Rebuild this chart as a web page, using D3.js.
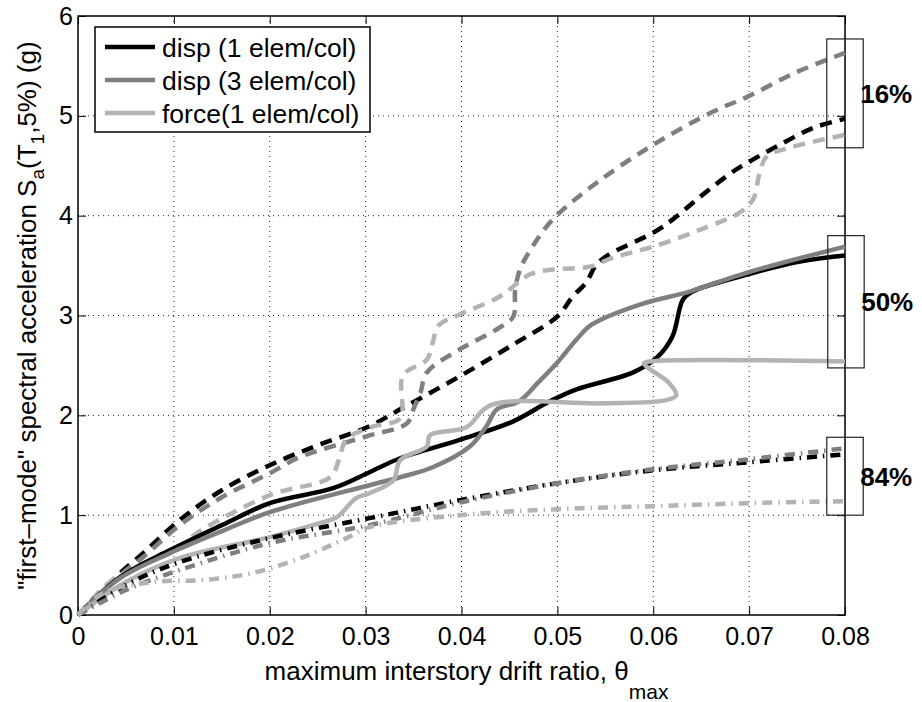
<!DOCTYPE html>
<html>
<head>
<meta charset="utf-8">
<script src="https://cdn.jsdelivr.net/npm/d3@7"></script>
<style>
  body { margin: 0; background: #fff; }
  text { font-family: "Liberation Sans", Arial, Helvetica, sans-serif; }
</style>
</head>
<body>
<div id="chart"></div>
<script>
// tick labels
var xTicks = [0, 0.01, 0.02, 0.03, 0.04, 0.05, 0.06, 0.07, 0.08];
var xTickLabels = ["0", "0.01", "0.02", "0.03", "0.04", "0.05", "0.06", "0.07", "0.08"];
var yTicks = [0, 1, 2, 3, 4, 5, 6];
var yTickLabels = ["0", "1", "2", "3", "4", "5", "6"];

var legendLabels = ["disp (1 elem/col)", "disp (3 elem/col)", "force(1 elem/col)"];
var fractileLabels = ["16%", "50%", "84%"];

// 16% fractiles (dashed)
var disp1_16_drift = [0, 0.0044, 0.0068, 0.0106, 0.015, 0.02, 0.025, 0.0304, 0.0336, 0.0398, 0.0454, 0.05, 0.0516, 0.053, 0.054, 0.0552, 0.06, 0.062, 0.0649, 0.0683, 0.07, 0.0732, 0.0767, 0.08];
var disp1_16_sa    = [0, 0.42, 0.62, 0.95, 1.25, 1.5, 1.7, 1.89, 2.06, 2.39, 2.71, 2.99, 3.19, 3.33, 3.5, 3.6, 3.83, 3.96, 4.19, 4.44, 4.54, 4.71, 4.88, 4.97];
var disp3_16_drift = [0, 0.0044, 0.0068, 0.0106, 0.015, 0.02, 0.0231, 0.0301, 0.0343, 0.0351, 0.0357, 0.0364, 0.0398, 0.044, 0.0454, 0.0456, 0.0461, 0.0474, 0.0495, 0.0541, 0.06, 0.0662, 0.0698, 0.075, 0.08];
var disp3_16_sa    = [0, 0.4, 0.58, 0.9, 1.18, 1.42, 1.58, 1.79, 1.92, 2.09, 2.22, 2.43, 2.66, 2.88, 2.99, 3.26, 3.46, 3.69, 3.96, 4.33, 4.71, 5.04, 5.19, 5.44, 5.63];
var force_16_drift = [0, 0.0033, 0.0051, 0.0075, 0.0106, 0.0124, 0.02, 0.0263, 0.0272, 0.028, 0.0308, 0.0336, 0.0339, 0.0364, 0.037, 0.0376, 0.0398, 0.044, 0.0471, 0.0495, 0.0534, 0.0558, 0.06, 0.0649, 0.069, 0.0704, 0.0711, 0.0718, 0.0742, 0.08];
var force_16_sa    = [0, 0.33, 0.43, 0.55, 0.68, 0.82, 1.2, 1.38, 1.55, 1.76, 1.89, 1.97, 2.4, 2.56, 2.73, 2.9, 3.01, 3.19, 3.41, 3.46, 3.49, 3.58, 3.69, 3.86, 4.03, 4.16, 4.43, 4.59, 4.68, 4.81];

// 50% fractiles (solid)
var disp1_50_drift = [0, 0.0044, 0.0096, 0.015, 0.02, 0.0266, 0.0304, 0.0336, 0.0398, 0.0454, 0.0492, 0.052, 0.0579, 0.0604, 0.062, 0.0631, 0.0641, 0.0698, 0.0753, 0.08];
var disp1_50_sa    = [0, 0.38, 0.65, 0.9, 1.12, 1.27, 1.43, 1.57, 1.755, 1.94, 2.14, 2.26, 2.43, 2.58, 2.79, 3.16, 3.24, 3.41, 3.54, 3.6];
var disp3_50_drift = [0, 0.0044, 0.0096, 0.015, 0.02, 0.0304, 0.0336, 0.037, 0.0409, 0.0426, 0.0437, 0.046, 0.048, 0.05, 0.052, 0.0536, 0.0586, 0.0638, 0.0698, 0.08];
var disp3_50_sa    = [0, 0.37, 0.62, 0.84, 1.03, 1.3, 1.38, 1.48, 1.69, 1.89, 2.06, 2.14, 2.33, 2.53, 2.76, 2.91, 3.11, 3.24, 3.43, 3.69];
var force_50_drift = [0, 0.005, 0.0106, 0.02, 0.0252, 0.027, 0.029, 0.0304, 0.0329, 0.0336, 0.0364, 0.0367, 0.0405, 0.043, 0.0545, 0.0612, 0.0624, 0.0617, 0.0597, 0.059, 0.0597, 0.08];
var force_50_sa    = [0, 0.33, 0.57, 0.78, 0.92, 0.98, 1.17, 1.22, 1.35, 1.55, 1.69, 1.8, 1.88, 2.1, 2.12, 2.15, 2.2, 2.32, 2.46, 2.52, 2.54, 2.54];

// 84% fractiles (dash-dot)
var disp1_84_drift = [0, 0.005, 0.0103, 0.02, 0.0304, 0.0398, 0.05, 0.06, 0.0699, 0.08];
var disp1_84_sa    = [0, 0.3, 0.52, 0.77, 0.97, 1.15, 1.32, 1.45, 1.53, 1.61];
var disp3_84_drift = [0, 0.005, 0.0106, 0.02, 0.0304, 0.04, 0.05, 0.06, 0.07, 0.08];
var disp3_84_sa    = [0, 0.25, 0.45, 0.72, 0.9, 1.13, 1.32, 1.46, 1.56, 1.67];
var force_84_drift = [0, 0.0026, 0.0078, 0.013, 0.0182, 0.0235, 0.028, 0.0304, 0.0398, 0.05, 0.06, 0.0699, 0.08];
var force_84_sa    = [0, 0.22, 0.33, 0.35, 0.42, 0.58, 0.77, 0.88, 1.0, 1.06, 1.09, 1.12, 1.14];

// bracket boxes around the curve ends (data units)
var boxDrift = [[0.0781, 0.0819], [0.0782, 0.082], [0.0781, 0.0819]];
var boxSa = [[4.68, 5.77], [2.475, 3.8], [1.0, 1.78]];

var colors = ["#000000", "#7f7f7f", "#b3b3b3"];
var dashes = { "16": "12,8", "50": null, "84": "10,6,1.5,6" };

function pairs(xs, ys) { return xs.map(function(d, i) { return [d, ys[i]]; }); }

var series = [
  {c: 0, p: "16", pts: pairs(disp1_16_drift, disp1_16_sa)},
  {c: 1, p: "16", pts: pairs(disp3_16_drift, disp3_16_sa)},
  {c: 2, p: "16", pts: pairs(force_16_drift, force_16_sa)},
  {c: 0, p: "50", pts: pairs(disp1_50_drift, disp1_50_sa)},
  {c: 1, p: "50", pts: pairs(disp3_50_drift, disp3_50_sa)},
  {c: 2, p: "50", pts: pairs(force_50_drift, force_50_sa)},
  {c: 0, p: "84", pts: pairs(disp1_84_drift, disp1_84_sa)},
  {c: 1, p: "84", pts: pairs(disp3_84_drift, disp3_84_sa)},
  {c: 2, p: "84", pts: pairs(force_84_drift, force_84_sa)}
];

var margin = {top: 16, right: 77, bottom: 87, left: 78},
    width = 922 - margin.left - margin.right,
    height = 702 - margin.top - margin.bottom;

var svg = d3.select("#chart")
  .append("svg")
    .attr("width", 922)
    .attr("height", 702)
  .append("g")
    .attr("transform", "translate(" + margin.left + "," + margin.top + ")");

var x = d3.scaleLinear().domain([0, 0.08]).range([0, width]);
var y = d3.scaleLinear().domain([0, 6]).range([height, 0]);

// dotted grid
svg.append("g").selectAll("line.gx")
  .data(xTicks.slice(1, -1))
  .enter().append("line")
    .attr("x1", function(d) { return x(d); })
    .attr("x2", function(d) { return x(d); })
    .attr("y1", 0).attr("y2", height)
    .attr("stroke", "#222").attr("stroke-width", 1)
    .attr("stroke-dasharray", "1,4");
svg.append("g").selectAll("line.gy")
  .data(yTicks.slice(1, -1))
  .enter().append("line")
    .attr("x1", 0).attr("x2", width)
    .attr("y1", function(d) { return y(d); })
    .attr("y2", function(d) { return y(d); })
    .attr("stroke", "#222").attr("stroke-width", 1)
    .attr("stroke-dasharray", "1,4");

// axes, ticks pointing inward
svg.append("g")
  .attr("transform", "translate(0," + height + ")")
  .call(d3.axisBottom(x).tickValues(xTicks)
    .tickFormat(function(d, i) { return xTickLabels[i]; })
    .tickSizeInner(-8).tickSizeOuter(0).tickPadding(12));
svg.append("g")
  .call(d3.axisTop(x).tickValues(xTicks).tickFormat("")
    .tickSizeInner(-8).tickSizeOuter(0));
svg.append("g")
  .call(d3.axisLeft(y).tickValues(yTicks)
    .tickFormat(function(d, i) { return yTickLabels[i]; })
    .tickSizeInner(-8).tickSizeOuter(0).tickPadding(5));
svg.append("g")
  .attr("transform", "translate(" + width + ",0)")
  .call(d3.axisRight(y).tickValues(yTicks).tickFormat("")
    .tickSizeInner(-8).tickSizeOuter(0));

svg.selectAll(".domain").remove();
svg.selectAll(".tick line").attr("stroke", "#000");
svg.selectAll(".tick text")
  .attr("fill", "#000")
  .style("font-size", "25px")
  .style("font-family", "'Liberation Sans', Arial, sans-serif");

svg.append("rect")
  .attr("x", 0).attr("y", 0)
  .attr("width", width).attr("height", height)
  .attr("fill", "none").attr("stroke", "#000").attr("stroke-width", 1.5);

// curves
var line = d3.line()
  .x(function(d) { return x(d[0]); })
  .y(function(d) { return y(d[1]); })
  .curve(d3.curveCatmullRom.alpha(0.5));

svg.append("g").selectAll("path")
  .data(series)
  .enter().append("path")
    .attr("d", function(d) { return line(d.pts); })
    .attr("fill", "none")
    .attr("stroke", function(d) { return colors[d.c]; })
    .attr("stroke-width", 4.5)
    .attr("stroke-linejoin", "round")
    .attr("stroke-dasharray", function(d) { return dashes[d.p]; });

// fractile boxes and labels
boxDrift.forEach(function(bx, i) {
  svg.append("rect")
    .attr("x", x(bx[0]))
    .attr("y", y(boxSa[i][1]))
    .attr("width", x(bx[1]) - x(bx[0]))
    .attr("height", y(boxSa[i][0]) - y(boxSa[i][1]))
    .attr("fill", "none")
    .attr("stroke", "#222")
    .attr("stroke-width", 1.2);
  svg.append("text")
    .attr("x", x(bx[1]) - 3)
    .attr("y", (y(boxSa[i][0]) + y(boxSa[i][1])) / 2)
    .attr("dy", "0.36em")
    .style("font-size", "26px")
    .style("font-weight", "bold")
    .text(fractileLabels[i]);
});

// legend
var lg = svg.append("g").attr("transform", "translate(" + (95 - margin.left) + "," + (27 - margin.top) + ")");
lg.append("rect")
  .attr("width", 275).attr("height", 105)
  .attr("fill", "#fff").attr("stroke", "#000").attr("stroke-width", 1.5);
legendLabels.forEach(function(l, i) {
  var yy = 20 + i * 33;
  lg.append("line")
    .attr("x1", 10).attr("x2", 60)
    .attr("y1", yy).attr("y2", yy)
    .attr("stroke", colors[i]).attr("stroke-width", 4.5);
  lg.append("text")
    .attr("x", 67).attr("y", yy)
    .attr("dy", "0.36em")
    .style("font-size", "26.5px")
    .text(l);
});

// axis titles
var xl = svg.append("text")
  .attr("x", width / 2 + 5)
  .attr("y", height + 65)
  .attr("text-anchor", "middle")
  .style("font-size", "26px");
xl.append("tspan").text("maximum interstory drift ratio, \u03B8");
xl.append("tspan").attr("dy", 19).style("font-size", "21px").text("max");

var yl = svg.append("text")
  .attr("transform", "translate(" + (-42) + "," + (height / 2) + ") rotate(-90)")
  .attr("text-anchor", "middle")
  .style("font-size", "26px");
yl.append("tspan").text("\"first\u2013mode\" spectral acceleration S");
yl.append("tspan").attr("dy", 8).style("font-size", "19px").text("a");
yl.append("tspan").attr("dy", -8).text("(T");
yl.append("tspan").attr("dy", 8).style("font-size", "19px").text("1");
yl.append("tspan").attr("dy", -8).text(",5%) (g)");
</script>
</body>
</html>
